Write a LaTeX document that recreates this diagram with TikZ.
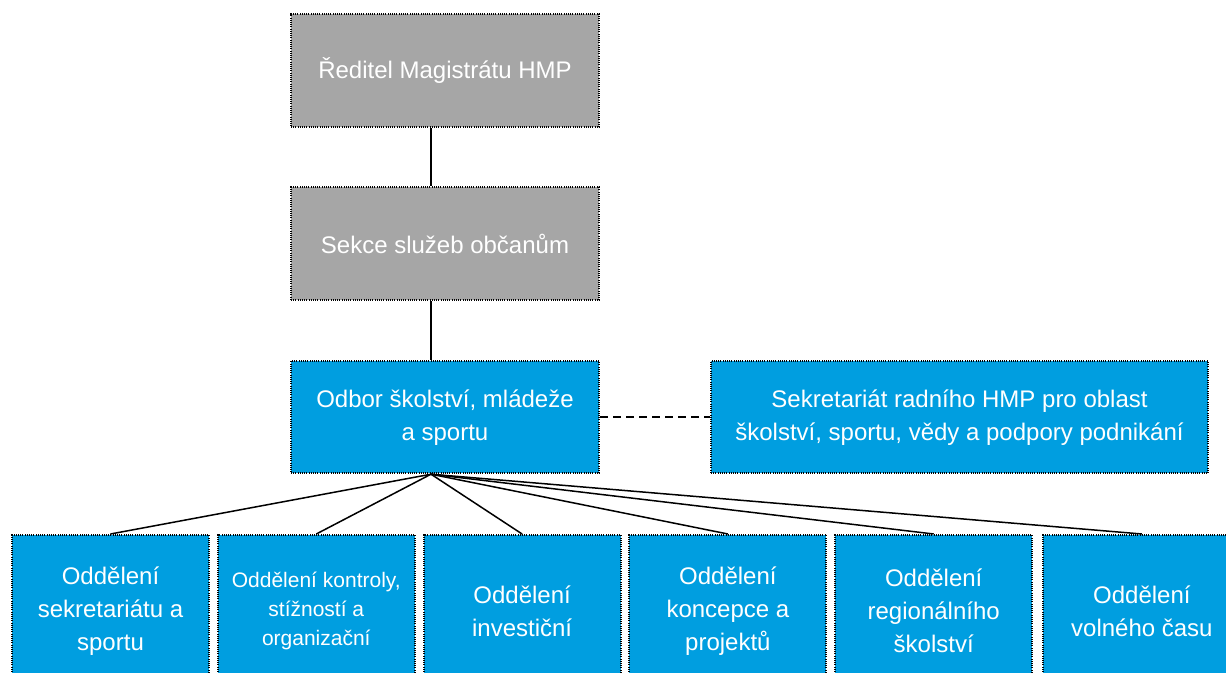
\documentclass[tikz,border=0pt]{standalone}
\usepackage{fontspec}
\setmainfont{Liberation Sans}
\usetikzlibrary{positioning}
\definecolor{mmgray}{RGB}{166,166,166}
\definecolor{mmblue}{RGB}{0,158,224}
\tikzset{
  unit/.style={draw,rectangle,line width=1pt,dash pattern=on 0.5pt off 0.6pt,
    text=white,align=center,inner sep=2pt,font=\fontsize{12}{16.5}\selectfont},
  vedeni/.style={unit,fill=mmgray,minimum width=154pt,minimum height=56.5pt},
  odbor/.style={unit,fill=mmblue,minimum width=154pt,minimum height=56pt},
  oddel/.style={unit,fill=mmblue,minimum width=98.5pt,minimum height=76pt},
  link/.style={line width=0.75pt},
  pomoc/.style={line width=0.75pt,dash pattern=on 4pt off 2.5pt}
}
\begin{document}
\begin{tikzpicture}[x=0.5pt,y=-0.5pt,node distance=29.2pt]
\useasboundingbox (0,0) rectangle (1226,673);

\node[vedeni] (reditel) at (445,70.5) {Ředitel Magistrátu HMP};
\node[vedeni,below=of reditel] (sekce) {Sekce služeb občanům};
\node[odbor,below=29.4pt of sekce] (osmt) {Odbor školství, mládeže\\a sportu};
\node[odbor,minimum width=248.5pt,right=55pt of osmt] (sekret) {Sekretariát radního HMP pro oblast\\školství, sportu, vědy a podpory podnikání};

\node[oddel] (sport) at (110.5,611) {Oddělení\\sekretariátu a\\sportu};
\node[oddel,right=3.4pt of sport,font=\fontsize{10.5}{14.5}\selectfont] (kontrola) {Oddělení kontroly,\\stížností a\\organizační};
\node[oddel,right=3.4pt of kontrola] (invest) {Oddělení\\investiční};
\node[oddel,right=3.4pt of invest] (koncepce) {Oddělení\\koncepce a\\projektů};
\node[oddel,right=3.4pt of koncepce] (region) {Oddělení\\regionálního\\školství};
\node[oddel,right=4.6pt of region] (volno) {Oddělení\\volného času};

\draw[link] ([xshift=-7pt]reditel.south) -- ([xshift=-7pt]sekce.north);
\draw[link] ([xshift=-7pt]sekce.south) -- ([xshift=-7pt]osmt.north);
\draw[pomoc] (osmt) -- (sekret);

\draw[link] ([xshift=-7pt]osmt.south) -- (sport.north);
\draw[link] ([xshift=-7pt]osmt.south) -- (kontrola.north);
\draw[link] ([xshift=-7pt]osmt.south) -- (invest.north);
\draw[link] ([xshift=-7pt]osmt.south) -- (koncepce.north);
\draw[link] ([xshift=-7pt]osmt.south) -- (region.north);
\draw[link] ([xshift=-7pt]osmt.south) -- (volno.north);

\end{tikzpicture}
\end{document}
